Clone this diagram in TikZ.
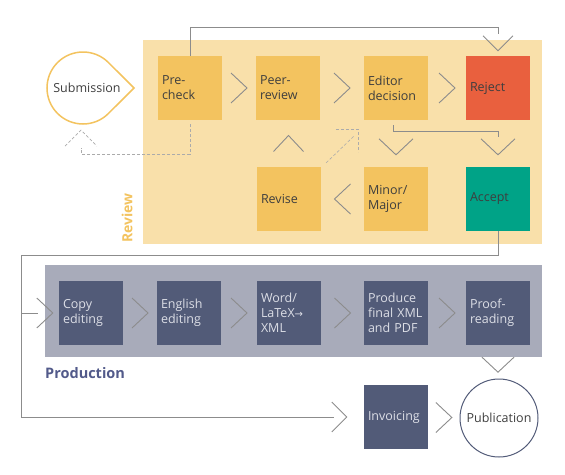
\documentclass[tikz,border=0pt]{standalone}
\usepackage{fontspec}
\setmainfont{Open Sans}
\newfontfamily\symfont{DejaVu Sans}
\usetikzlibrary{calc}
\definecolor{revbg}{HTML}{F9E0AA}
\definecolor{revbox}{HTML}{F3C35F}
\definecolor{rejectc}{HTML}{E9603E}
\definecolor{acceptc}{HTML}{00A387}
\definecolor{prodbg}{HTML}{A8ABBA}
\definecolor{prodbox}{HTML}{525B78}
\definecolor{prodlbl}{HTML}{525A8A}
\definecolor{prodtxt}{HTML}{DCDEE6}
\definecolor{txt}{HTML}{3E3E3E}
\definecolor{linec}{HTML}{8C8C8C}
\definecolor{dotc}{HTML}{ABABAB}

\begin{document}
\begin{tikzpicture}[x=1pt,y=-1pt,
  box/.style={minimum size=64pt, inner sep=4pt, text width=56pt, align=left, font={\fontsize{12.5}{15}\selectfont}},
  rbox/.style={box, fill=revbox, text=txt},
  pbox/.style={box, fill=prodbox, text=prodtxt},
  line/.style={draw=linec, line width=0.9pt},
  chev/.style={draw=linec, line width=0.9pt},
  dots/.style={draw=dotc, line width=0.6pt, densely dashed}]
  \useasboundingbox (0,0) rectangle (565,474);

  % panels
  \fill[revbg] (143,40) rectangle (542,244);
  \fill[prodbg] (45,265) rectangle (542,357);
  \node[rotate=90, text=revbox, font={\fontsize{14}{16}\selectfont\bfseries}] (revlbl) at (127,218) {Review};
  \node[anchor=west, inner sep=0, text=prodlbl, font={\fontsize{14.5}{16}\selectfont\bfseries}] (prodlabel) at (45,373) {Production};

  % review
  \node[circle, minimum size=72pt, inner sep=0, text=txt, font={\fontsize{12.5}{15}\selectfont}] (sub) at (83,88) {\hspace*{8pt}Submission};
  \draw[draw=revbox, line width=1.5pt] ($(sub.center)+(51,0)$) -- ($(sub.center)+(45:36)$)
     arc[start angle=45, end angle=315, radius=36] -- cycle;
  \node[rbox] (pre) at (190,88) {Pre-\\check};
  \node[rbox] (peer) at (288,88) {Peer-\\review};
  \node[rbox] (editor) at (396,88) {Editor\\decision};
  \node[box, fill=rejectc, text=txt] (reject) at (498,88) {Reject};
  \node[rbox] (revise) at (289,199) {Revise};
  \node[rbox] (minor) at (396,199) {Minor/\\Major};
  \node[box, fill=acceptc, text=txt] (accept) at (498,199) {Accept};

  \draw[chev] ($(pre.east)!.5!(peer.west)+(-8,-15)$) -- ++(16,15) -- ++(-16,15);
  \draw[chev] ($(peer.east)!.5!(editor.west)+(-8,-15)$) -- ++(16,15) -- ++(-16,15);
  \draw[chev] ($(editor.east)!.5!(reject.west)+(-8,-15)$) -- ++(16,15) -- ++(-16,15);
  \draw[chev] ($(minor.west)!.5!(revise.east)+(8,-15)$) -- ++(-16,15) -- ++(16,15);
  \draw[chev] ($(revise.north)!.5!(peer.south)+(-15,8)$) -- ++(15,-16) -- ++(15,16);
  \draw[chev] ($(minor.north)+(-17,-28)$) -- ++(17,16) -- ++(17,-16);
  \draw[chev] ($(accept.north)+(-17,-28)$) -- ++(17,16) -- ++(17,-16);
  \draw[chev] ($(reject.north)+(-15,-20)$) -- ++(15,15) -- ++(15,-15);

  \draw[line] (pre.north) |- ($(reject.north)+(0,-28)$) -- ++(0,6);
  \draw[line] ($(editor.south)+(-3,5)$) |- ($(accept.north)+(0,-35)$) -- ++(0,5);
  \draw[dots] ($(pre.south)+(0,4)$) -- ++(0,30) -| ($(sub.south)+(-2,22)$);
  \draw[dots] ($(sub.south)+(-18,20)$) -- ++(16,-16) -- ++(16,16);
  \draw[dots] ($(revise.north east)+(5,-4)$) -- ($(editor.south west)+(-10,16)$);
  \draw[dots] ($(editor.south west)+(-28,9)$) -- ++(22,0) -- ++(0,23);

  % production
  \node[pbox] (copy) at (91,313) {Copy\\editing};
  \node[pbox] (english) at (189,313) {English\\editing};
  \node[pbox] (word) at (289,313) {Word/\\LaTeX{\symfont\fontsize{10}{15}\selectfont →}\\XML};
  \node[pbox] (final) at (396,313) {Produce\\final XML\\and PDF};
  \node[pbox] (proof) at (498,313) {Proof-\\reading};
  \node[pbox] (invoicing) at (396,417) {Invoicing};
  \node[circle, draw=prodbox, line width=1pt, minimum size=78pt, inner sep=0, text=txt, font={\fontsize{12.5}{15}\selectfont}] (pub) at (499,418) {Publication};

  \draw[chev] ($(copy.west)+(-22,-15)$) -- ++(16,15) -- ++(-16,15);
  \draw[chev] ($(copy.east)!.5!(english.west)+(-8,-15)$) -- ++(16,15) -- ++(-16,15);
  \draw[chev] ($(english.east)!.5!(word.west)+(-8,-15)$) -- ++(16,15) -- ++(-16,15);
  \draw[chev] ($(word.east)!.5!(final.west)+(-8,-15)$) -- ++(16,15) -- ++(-16,15);
  \draw[chev] ($(final.east)!.5!(proof.west)+(-8,-15)$) -- ++(16,15) -- ++(-16,15);
  \draw[chev] ($(proof.south)+(-16,12)$) -- ++(16,15) -- ++(16,-15);
  \draw[chev] ($(invoicing.west)+(-32,-15)$) -- ++(15,15) -- ++(-15,15);
  \draw[chev] ($(invoicing.east)!.5!(pub.west)+(-8,-15)$) -- ++(16,15) -- ++(-16,15);

  \coordinate (lft) at (21,255);
  \draw[line] (accept.south) -- ++(0,24) -| (lft |- invoicing.west) -- ($(invoicing.west)+(-30,0)$);
  \draw[line] (lft |- copy.west) -- ($(copy.west)+(-21,0)$);
\end{tikzpicture}
\end{document}
